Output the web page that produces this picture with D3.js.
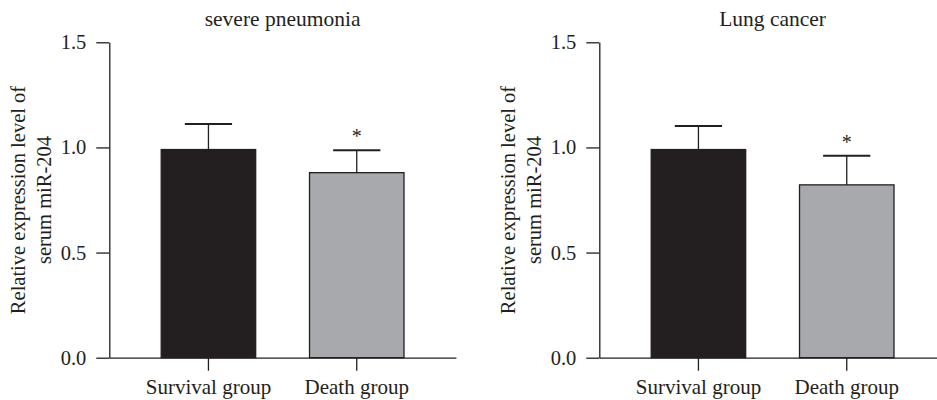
<!DOCTYPE html>
<html>
<head>
<meta charset="utf-8">
<script src="https://cdn.jsdelivr.net/npm/d3@7"></script>
<style>
  body { margin: 0; background: #fff; }
  svg text { font-family: "Liberation Serif", "Times New Roman", serif; fill: #231f20; }
</style>
</head>
<body>
<svg id="chart" width="937" height="400"></svg>
<script>
// chart data
const groups = ["Survival group", "Death group"];
const panelTitles = ["severe pneumonia", "Lung cancer"];
const pneumoniaMeans = [0.99, 0.88];
const pneumoniaErrors = [0.122, 0.107];
const cancerMeans = [0.99, 0.822];
const cancerErrors = [0.112, 0.139];
const significance = ["", "*"];
const yTicks = [0, 0.5, 1.0, 1.5];
const yLabelLines = ["Relative expression level of", "serum miR-204"];
const barColors = ["#231f20", "#a7a9ac"];

const panels = [
  { title: panelTitles[0], means: pneumoniaMeans, errors: pneumoniaErrors, left: 109.3 },
  { title: panelTitles[1], means: cancerMeans, errors: cancerErrors, left: 599.3 }
];

const ink = "#231f20";
const plotTop = 42.3, plotBottom = 357.7, plotWidth = 346.6;

const svg = d3.select("#chart");

const y = d3.scaleLinear().domain([0, 1.5]).range([plotBottom, plotTop]);

panels.forEach(p => {
  const g = svg.append("g").attr("transform", `translate(${p.left},0)`);

  const x = d3.scaleBand()
    .domain(groups)
    .range([0, plotWidth])
    .paddingInner(0.363)
    .paddingOuter(0.35);

  // bars
  g.selectAll(".bar")
    .data(groups)
    .enter()
    .append("rect")
    .attr("class", "bar")
    .attr("x", d => x(d))
    .attr("width", x.bandwidth())
    .attr("y", (d, i) => y(p.means[i]))
    .attr("height", (d, i) => y(0) - y(p.means[i]))
    .attr("fill", (d, i) => barColors[i])
    .attr("stroke", ink)
    .attr("stroke-width", 1.3);

  // upper error bars
  groups.forEach((d, i) => {
    const cx = x(d) + x.bandwidth() / 2;
    const top = y(p.means[i] + p.errors[i]);
    g.append("line")
      .attr("x1", cx).attr("x2", cx)
      .attr("y1", y(p.means[i])).attr("y2", top)
      .attr("stroke", ink).attr("stroke-width", 1.3);
    g.append("line")
      .attr("x1", cx - x.bandwidth() / 4).attr("x2", cx + x.bandwidth() / 4)
      .attr("y1", top).attr("y2", top)
      .attr("stroke", ink).attr("stroke-width", 2);
    if (significance[i]) {
      g.append("text")
        .attr("x", cx)
        .attr("y", top - 7)
        .attr("text-anchor", "middle")
        .style("font-size", "20px")
        .text(significance[i]);
    }
  });

  // y axis
  const yAxis = g.append("g")
    .call(d3.axisLeft(y).tickValues(yTicks).tickFormat(d3.format(".1f"))
      .tickSizeInner(13).tickSizeOuter(0).tickPadding(10));
  yAxis.selectAll("path, line").attr("stroke", ink).attr("stroke-width", 1.3);
  yAxis.selectAll("text").style("font-size", "20.5px").attr("fill", ink);

  // x axis
  const xAxis = g.append("g")
    .attr("transform", `translate(0,${plotBottom})`)
    .call(d3.axisBottom(x).tickSizeInner(13).tickSizeOuter(0).tickPadding(8));
  xAxis.selectAll("path, line").attr("stroke", ink).attr("stroke-width", 1.3);
  xAxis.selectAll("text").style("font-size", "21px").attr("fill", ink);

  // title
  g.append("text")
    .attr("x", plotWidth / 2)
    .attr("y", 26)
    .attr("text-anchor", "middle")
    .style("font-size", "21.5px")
    .text(p.title);

  // y label, two lines
  const midY = (plotTop + plotBottom) / 2;
  yLabelLines.forEach((line, k) => {
    g.append("text")
      .attr("transform", `translate(${-84 + k * 26},${midY}) rotate(-90)`)
      .attr("text-anchor", "middle")
      .style("font-size", "20.5px")
      .text(line);
  });
});
</script>
</body>
</html>
